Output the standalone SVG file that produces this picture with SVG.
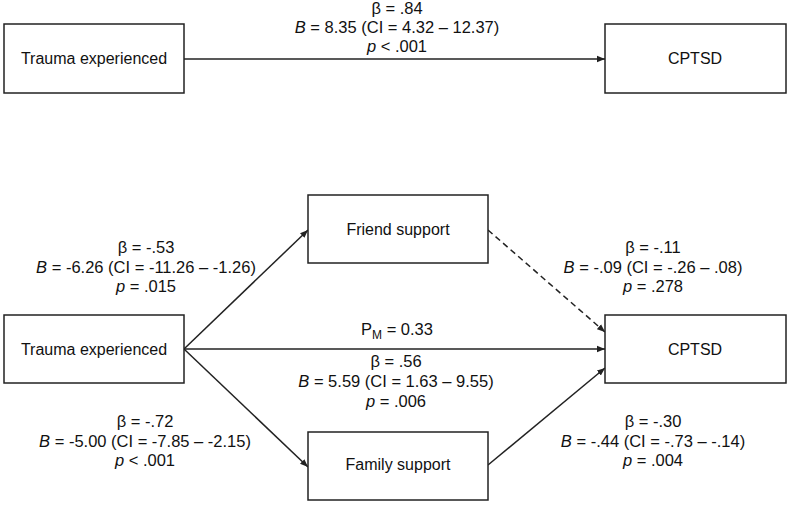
<svg xmlns="http://www.w3.org/2000/svg" width="793" height="505" viewBox="0 0 793 505">
<style>
.box{fill:#fff;stroke:#222;stroke-width:1.5}
.t{font-family:"Liberation Sans",Arial,sans-serif;font-size:16px;fill:#111;text-anchor:middle}
.l{font-size:16.5px}
.i{font-style:italic}
.c{stroke:#222;stroke-width:1.5;fill:none}
.d{stroke-dasharray:6 4}
</style>
<defs>
<marker id="ah" viewBox="0 0 10 10" refX="10" refY="5" markerWidth="8" markerHeight="8" markerUnits="userSpaceOnUse" orient="auto">
<path d="M0,1 L10,5 L0,9 Z" fill="#222"/>
</marker>
</defs>
<rect width="793" height="505" fill="#fff"/>
<g id="connectors">
<line class="c" x1="184" y1="59" x2="605" y2="59" marker-end="url(#ah)"/>
<line class="c" x1="184" y1="349" x2="308" y2="230" marker-end="url(#ah)"/>
<line class="c" x1="184" y1="349" x2="605" y2="349" marker-end="url(#ah)"/>
<line class="c" x1="184" y1="349" x2="308" y2="467" marker-end="url(#ah)"/>
<line class="c" x1="488" y1="465" x2="605" y2="368" marker-end="url(#ah)"/>
<line class="c d" x1="488" y1="230" x2="605" y2="332" marker-end="url(#ah)"/>
</g>
<g id="trauma-top"><rect class="box" x="4" y="24" width="180" height="69"/><text class="t" x="94" y="64">Trauma experienced</text></g>
<g id="cptsd-top"><rect class="box" x="605" y="24" width="181" height="69"/><text class="t" x="695" y="64">CPTSD</text></g>
<g id="friend"><rect class="box" x="308" y="195" width="180" height="68"/><text class="t" x="398" y="235">Friend support</text></g>
<g id="trauma-bottom"><rect class="box" x="4" y="315" width="180" height="68"/><text class="t" x="94" y="355">Trauma experienced</text></g>
<g id="cptsd-bottom"><rect class="box" x="605" y="315" width="181" height="68"/><text class="t" x="695" y="355">CPTSD</text></g>
<g id="family"><rect class="box" x="308" y="432" width="180" height="68"/><text class="t" x="398" y="470">Family support</text></g>
<g id="labels">
<text class="t l" x="397" y="14">β = .84</text>
<text class="t l" x="397" y="33"><tspan class="i">B</tspan> = 8.35 (CI = 4.32 – 12.37)</text>
<text class="t l" x="397" y="52"><tspan class="i">p</tspan> &lt; .001</text>

<text class="t l" x="146" y="253">β = -.53</text>
<text class="t l" x="146" y="273"><tspan class="i">B</tspan> = -6.26 (CI = -11.26 – -1.26)</text>
<text class="t l" x="146" y="292"><tspan class="i">p</tspan> = .015</text>

<text class="t l" x="653" y="253">β = -.11</text>
<text class="t l" x="653" y="273"><tspan class="i">B</tspan> = -.09 (CI = -.26 – .08)</text>
<text class="t l" x="653" y="292"><tspan class="i">p</tspan> = .278</text>

<text class="t l" x="397" y="335">P<tspan font-size="12" dy="4">M</tspan><tspan dy="-4"> = 0.33</tspan></text>

<text class="t l" x="396" y="367">β = .56</text>
<text class="t l" x="396" y="387"><tspan class="i">B</tspan> = 5.59 (CI = 1.63 – 9.55)</text>
<text class="t l" x="396" y="407"><tspan class="i">p</tspan> = .006</text>

<text class="t l" x="145" y="427">β = -.72</text>
<text class="t l" x="145" y="447"><tspan class="i">B</tspan> = -5.00 (CI = -7.85 – -2.15)</text>
<text class="t l" x="145" y="466"><tspan class="i">p</tspan> &lt; .001</text>

<text class="t l" x="653" y="427">β = -.30</text>
<text class="t l" x="653" y="447"><tspan class="i">B</tspan> = -.44 (CI = -.73 – -.14)</text>
<text class="t l" x="653" y="466"><tspan class="i">p</tspan> = .004</text>
</g>
</svg>
